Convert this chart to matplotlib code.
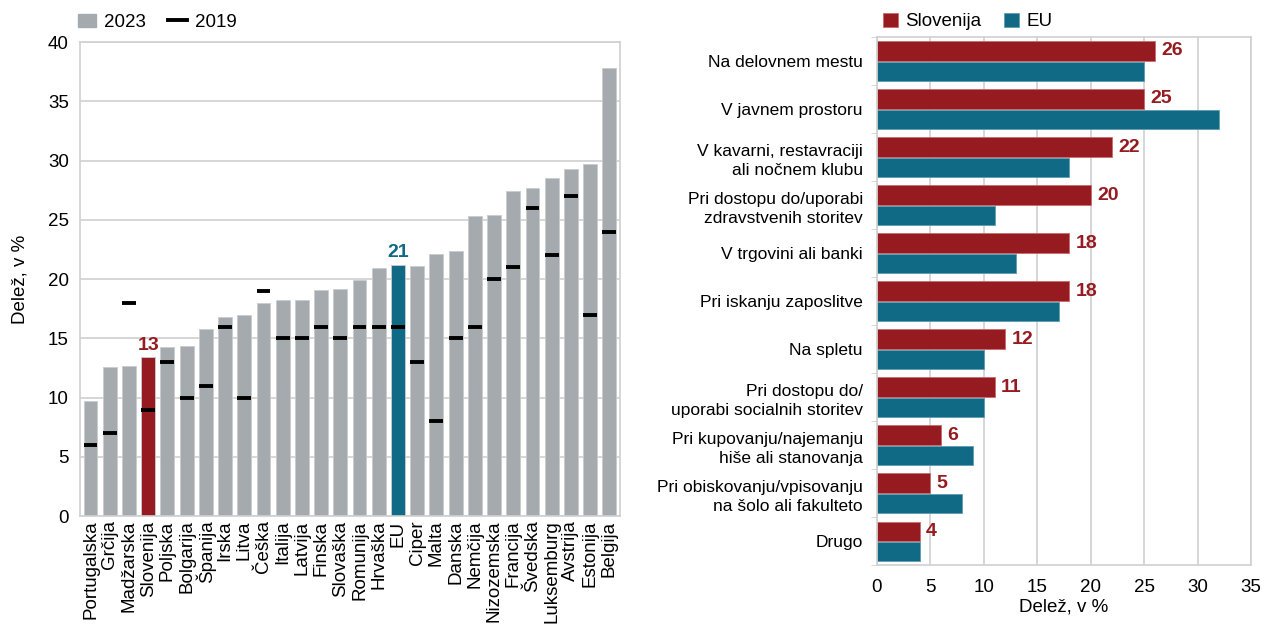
import numpy as np
import matplotlib.pyplot as plt
from matplotlib.lines import Line2D
from matplotlib.patches import Patch

plt.rcParams['font.family'] = ['Liberation Sans', 'DejaVu Sans']

countries = ["Portugalska", "Grčija", "Madžarska", "Slovenija", "Poljska", "Bolgarija",
             "Španija", "Irska", "Litva", "Češka", "Italija", "Latvija", "Finska",
             "Slovaška", "Romunija", "Hrvaška", "EU", "Ciper", "Malta", "Danska",
             "Nemčija", "Nizozemska", "Francija", "Švedska", "Luksemburg", "Avstrija",
             "Estonija", "Belgija"]
val_2023 = [9.7, 12.6, 12.7, 13.4, 14.3, 14.4, 15.8, 16.8, 17.0, 18.0, 18.2, 18.2, 19.1,
            19.2, 19.9, 20.9, 21.2, 21.1, 22.1, 22.4, 25.3, 25.4, 27.4, 27.7, 28.5, 29.3,
            29.7, 37.8]
val_2019 = [6, 7, 18, 9, 13, 10, 11, 16, 10, 19, 15, 15, 16, 15, 16, 16, 16, 13, 8, 15,
            16, 20, 21, 26, 22, 27, 17, 24]

places = ["Na delovnem mestu", "V javnem prostoru", "V kavarni, restavraciji\nali nočnem klubu",
          "Pri dostopu do/uporabi\nzdravstvenih storitev", "V trgovini ali banki",
          "Pri iskanju zaposlitve", "Na spletu", "Pri dostopu do/\nuporabi socialnih storitev",
          "Pri kupovanju/najemanju\nhiše ali stanovanja",
          "Pri obiskovanju/vpisovanju\nna šolo ali fakulteto", "Drugo"]
slo = [26, 25, 22, 20, 18, 18, 12, 11, 6, 5, 4]
eu = [25, 32, 18, 11, 13, 17, 10, 10, 9, 8, 4]

GRAY = "#A5AAAF"
RED = "#951B20"
TEAL = "#116A85"
GRID = "#D0D0D0"

fig = plt.figure(figsize=(12.69, 6.28), dpi=100)

# left chart
ax = fig.add_axes([0.063, 0.178, 0.4255, 0.755])
x = np.arange(len(countries))
colors = [GRAY] * len(countries)
colors[countries.index("Slovenija")] = RED
colors[countries.index("EU")] = TEAL
ax.bar(x, val_2023, width=0.72, color=colors, edgecolor="#C8CCD0", linewidth=0.6, zorder=2)
ax.hlines(val_2019, x - 0.36, x + 0.36, color="black", linewidth=2.8, zorder=3)
ax.set_xlim(-0.55, len(countries) - 0.45)
ax.set_ylim(0, 40)
ax.set_yticks(range(0, 41, 5))
ax.set_xticks(x)
ax.set_xticklabels(countries, rotation=90, fontsize=13.5)
ax.tick_params(axis="y", labelsize=13.5, length=0, pad=8)
ax.tick_params(axis="x", length=0, pad=3)
ax.grid(axis="y", color=GRID, linewidth=1.2, zorder=0)
for s in ax.spines.values():
    s.set_color(GRID)
    s.set_linewidth(1.2)
ax.set_ylabel("Delež, v %", fontsize=13.5, labelpad=14)
i_slo = countries.index("Slovenija")
i_eu = countries.index("EU")
ax.text(i_slo, val_2023[i_slo] + 0.3, "13", color=RED, fontsize=14, fontweight="bold",
        ha="center", va="bottom")
ax.text(i_eu, val_2023[i_eu] + 0.3, "21", color=TEAL, fontsize=14, fontweight="bold",
        ha="center", va="bottom")
handles = [Patch(color=GRAY), Line2D([0], [0], color="black", lw=2.8)]
ax.legend(handles, ["2023", "2019"], loc="lower left", bbox_to_anchor=(-0.025, 1.0),
          ncol=2, frameon=False, fontsize=13.5, handlelength=1.0, handletextpad=0.4,
          columnspacing=1.2, borderaxespad=0.2)

# right chart
ax2 = fig.add_axes([0.691, 0.10, 0.295, 0.841])
y = np.arange(len(places))
h = 0.4
ax2.barh(y - 0.21, slo, height=h, color=RED, edgecolor="#C86A6D", linewidth=0.6,
         zorder=2, label="Slovenija")
ax2.barh(y + 0.21, eu, height=h, color=TEAL, edgecolor="#5E9CB0", linewidth=0.6,
         zorder=2, label="EU")
for yi, v in zip(y, slo):
    ax2.text(v + 0.6, yi - 0.21, str(v), color=RED, fontsize=14, fontweight="bold",
             ha="left", va="center")
ax2.set_ylim(len(places) - 0.5, -0.5)
ax2.set_xlim(0, 35)
ax2.set_xticks(range(0, 36, 5))
ax2.set_yticks(y)
ax2.set_yticklabels(places, fontsize=12.5, ha="right", linespacing=1.35)
ax2.set_yticks(np.arange(-0.5, len(places), 1), minor=True)
ax2.tick_params(axis="y", which="major", length=0, pad=10)
ax2.tick_params(axis="y", which="minor", length=4, color=GRID)
ax2.tick_params(axis="x", labelsize=13.5, length=0, pad=10)
ax2.grid(axis="x", color=GRID, linewidth=1.2, zorder=0)
for s in ax2.spines.values():
    s.set_color(GRID)
    s.set_linewidth(1.2)
ax2.set_xlabel("Delež, v %", fontsize=13.5, labelpad=2)
ax2.legend(loc="lower left", bbox_to_anchor=(-0.01, 0.995), ncol=2, frameon=False,
           fontsize=13.5, handlelength=0.8, handleheight=0.8, handletextpad=0.4,
           columnspacing=1.2, borderaxespad=0.1)

plt.savefig("out.png", dpi=100)
